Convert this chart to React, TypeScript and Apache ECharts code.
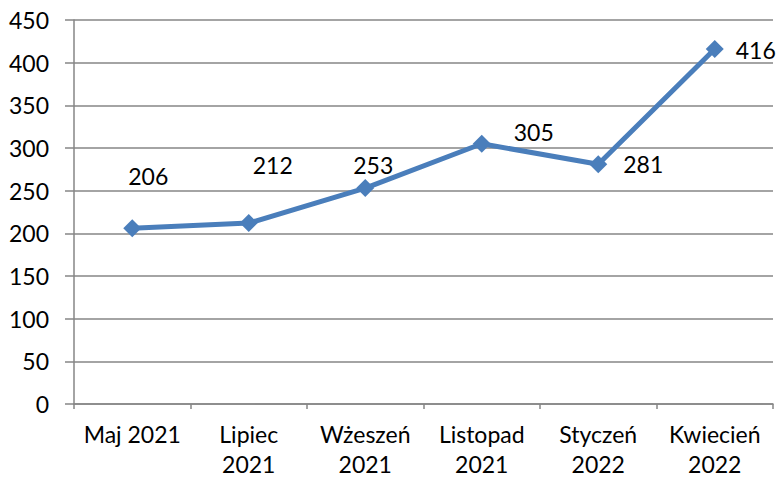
import React, { useEffect, useRef } from "react";
import * as echarts from "echarts";

const categories = ["Maj 2021", "Lipiec\n2021", "Wżeszeń\n2021", "Listopad\n2021", "Styczeń\n2022", "Kwiecień\n2022"];
const values = [206, 212, 253, 305, 281, 416];
const labelOffsets: [number, number][] = [[16, -52], [24, -58], [8, -23], [52, -12], [45, 0], [41, 1]];

export default function App() {
  const ref = useRef<HTMLDivElement>(null);
  useEffect(() => {
    const chart = echarts.init(ref.current!, null, { renderer: "svg" });
    const font = "Lato, 'Open Sans', sans-serif";
    chart.setOption({
      animation: false,
      grid: { left: 74, right: 10, top: 20, bottom: 77 },
      xAxis: {
        type: "category",
        data: categories,
        boundaryGap: true,
        axisLine: { lineStyle: { color: "#868686", width: 1.5 } },
        axisTick: { show: true, length: 5, alignWithLabel: false, lineStyle: { color: "#868686", width: 1.5 } },
        axisLabel: { color: "#000", fontSize: 23, fontFamily: font, margin: 15, lineHeight: 30, interval: 0 },
      },
      yAxis: {
        type: "value",
        min: 0,
        max: 450,
        interval: 50,
        axisLine: { show: true, lineStyle: { color: "#868686", width: 1.5 } },
        axisTick: { show: true, length: 9, lineStyle: { color: "#868686", width: 1.5 } },
        splitLine: { lineStyle: { color: "#868686", width: 1.5 } },
        axisLabel: { color: "#000", fontSize: 23, fontFamily: font, margin: 25 },
      },
      series: [
        {
          type: "line",
          data: values.map((v, i) => ({
            value: v,
            label: { offset: labelOffsets[i] },
          })),
          symbol: "diamond",
          symbolSize: 18,
          lineStyle: { color: "#4a7ebb", width: 5 },
          itemStyle: { color: "#4a7ebb" },
          label: {
            show: true,
            position: "inside",
            color: "#000",
            fontSize: 23,
            fontFamily: font,
          },
        },
      ],
    });
    return () => chart.dispose();
  }, []);
  return <div ref={ref} style={{ position: "absolute", left: 0, top: 0, width: 783, height: 481 }} />;
}
